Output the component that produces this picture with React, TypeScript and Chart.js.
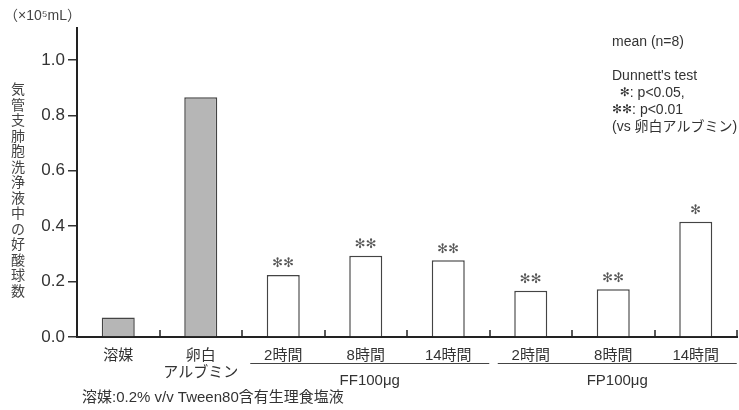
import React, { useEffect, useRef } from "react";
import { Chart, registerables } from "chart.js";

Chart.register(...registerables);

const categories: (string | string[])[] = [
  "溶媒",
  ["卵白", "アルブミン"],
  "2時間",
  "8時間",
  "14時間",
  "2時間",
  "8時間",
  "14時間",
];
const eosinophils = [0.07, 0.865, 0.224, 0.293, 0.277, 0.167, 0.172, 0.416];
const significance = ["", "", "✻✻", "✻✻", "✻✻", "✻✻", "✻✻", "✻"];
const isControl = [true, true, false, false, false, false, false, false];
const groupLabels = ["FF100μg", "FP100μg"];
const groupRanges = [
  [2, 4],
  [5, 7],
];
const yTitle = "気管支肺胞洗浄液中の好酸球数";
const unitLabel = "（×10⁵mL）";
const noteLines = ["mean (n=8)", "", "Dunnett's test", "  ✻: p<0.05,", "✻✻: p<0.01", "(vs 卵白アルブミン)"];
const footnote = "溶媒:0.2% v/v Tween80含有生理食塩液";

const FONT = "'Liberation Sans', 'Noto Sans CJK JP', sans-serif";
const CJK = "'Noto Sans CJK JP', 'Liberation Sans', sans-serif";
const STAR = "'DejaVu Sans', sans-serif";

const annotate = {
  id: "annotate",
  afterDatasetsDraw(chart: any) {
    const ctx = chart.ctx as CanvasRenderingContext2D;
    const x = chart.scales.x;
    const y = chart.scales.y;
    const area = chart.chartArea;
    ctx.save();
    // short upward ticks at category boundaries
    ctx.strokeStyle = "#222";
    ctx.lineWidth = 1.5;
    for (let i = 0; i <= categories.length; i++) {
      const px = Math.round(x.getPixelForValue(i - 0.5));
      ctx.beginPath();
      ctx.moveTo(px, area.bottom);
      ctx.lineTo(px, area.bottom - 7);
      ctx.stroke();
    }
    // significance marks
    ctx.fillStyle = "#555";
    ctx.font = `13px ${STAR}`;
    ctx.textAlign = "center";
    ctx.textBaseline = "middle";
    significance.forEach((s, i) => {
      if (!s) return;
      const px = x.getPixelForValue(i);
      const py = y.getPixelForValue(eosinophils[i]);
      ctx.fillText(s, px, py - 11);
    });
    // group lines and labels
    ctx.strokeStyle = "#444";
    ctx.lineWidth = 1.2;
    ctx.fillStyle = "#333";
    ctx.font = `15px ${FONT}`;
    groupRanges.forEach(([a, b], gi) => {
      const x1 = x.getPixelForValue(a) - 33;
      const x2 = x.getPixelForValue(b) + 41;
      ctx.beginPath();
      ctx.moveTo(x1, 363.5);
      ctx.lineTo(x2, 363.5);
      ctx.stroke();
      ctx.fillText(groupLabels[gi], (x1 + x2) / 2, 381);
    });
    // vertical y title
    ctx.fillStyle = "#444";
    ctx.font = `14px ${CJK}`;
    Array.from(yTitle).forEach((ch, i) => {
      ctx.fillText(ch, 18, 89 + i * 15.5);
    });
    // unit label
    ctx.textAlign = "left";
    ctx.font = `14px ${FONT}`;
    ctx.fillText(unitLabel, 4, 16);
    // notes
    ctx.fillStyle = "#333";
    let ny = 42;
    noteLines.forEach((line) => {
      if (line) {
        let cx = 612;
        for (const ch of Array.from(line)) {
          ctx.font = ch === "✻" ? `12px ${STAR}` : `14px ${FONT}`;
          ctx.fillText(ch, cx, ny);
          cx += ctx.measureText(ch).width;
        }
      }
      ny += 17;
    });
    // footnote
    ctx.font = `15px ${FONT}`;
    ctx.fillText(footnote, 82, 398);
    ctx.restore();
  },
};

export default function App() {
  const ref = useRef<HTMLCanvasElement>(null);
  useEffect(() => {
    document.body.style.margin = "0";
    const chart = new Chart(ref.current!, {
      type: "bar",
      data: {
        labels: categories,
        datasets: [
          {
            data: eosinophils,
            backgroundColor: isControl.map((c) => (c ? "#b6b6b6" : "#ffffff")),
            borderColor: "#444",
            borderWidth: 1.5,
            borderSkipped: "bottom",
            barPercentage: 0.4,
            categoryPercentage: 1,
          },
        ],
      },
      options: {
        animation: false,
        responsive: false,
        layout: { padding: { left: 0, top: 28, right: 2, bottom: 0 } },
        plugins: { legend: { display: false }, tooltip: { enabled: false } },
        scales: {
          x: {
            grid: { display: false },
            border: { display: true, color: "#222", width: 2 },
            ticks: {
              color: "#333",
              font: { size: 15, family: FONT, lineHeight: 1.15 },
              padding: 2,
              maxRotation: 0,
              autoSkip: false,
            },
            afterFit: (s: any) => {
              s.height = 73;
            },
          },
          y: {
            min: 0,
            max: 1.115,
            grid: { drawOnChartArea: false, tickLength: 9, color: "#333", lineWidth: 1.5 },
            border: { display: true, color: "#222", width: 2 },
            ticks: {
              stepSize: 0.2,
              color: "#333",
              font: { size: 17, family: FONT },
              padding: 3,
              callback: (v: any) => Number(v).toFixed(1),
            },
            afterBuildTicks: (s: any) => {
              s.ticks = s.ticks.filter((t: any) => Math.abs(t.value * 5 - Math.round(t.value * 5)) < 1e-6);
            },
            afterFit: (s: any) => {
              s.width = 77;
            },
          },
        },
      },
      plugins: [annotate],
    });
    return () => chart.destroy();
  }, []);
  return <canvas ref={ref} width={739} height={410} style={{ display: "block" }} />;
}
